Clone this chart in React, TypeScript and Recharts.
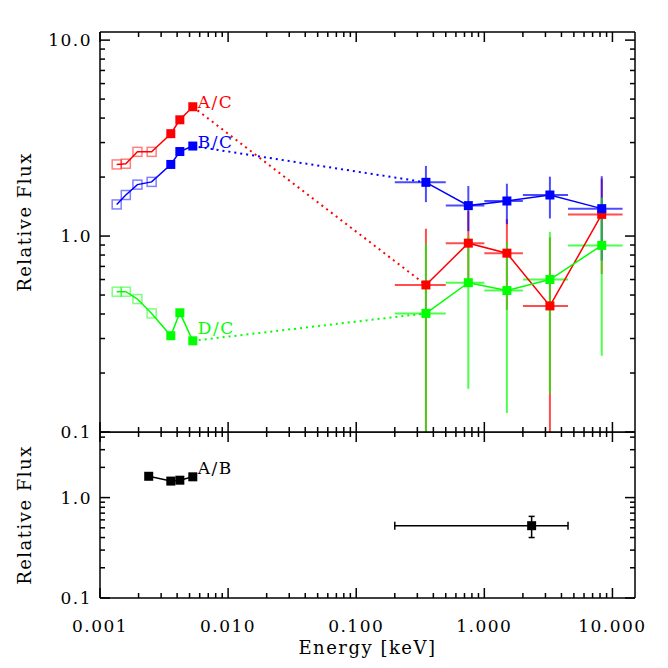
import { ScatterChart, Scatter, XAxis, YAxis, ErrorBar } from 'recharts';

// UV / optical points (open squares = first four filters)
const uvEnergy = [0.00135, 0.00159, 0.00196, 0.00253, 0.00357, 0.0042, 0.0053];
const uvOpen = [true, true, true, true, false, false, false];
const uvAC = [2.32, 2.34, 2.69, 2.69, 3.33, 3.92, 4.57];
const uvBC = [1.45, 1.62, 1.83, 1.89, 2.32, 2.7, 2.88];
const uvDC = [0.52, 0.52, 0.477, 0.403, 0.31, 0.406, 0.292];

// X-ray bins
const xrEnergy = [0.35, 0.75, 1.5, 3.25, 8.25];
const xrEnergyLo = [0.2, 0.5, 1, 2, 4.5];
const xrEnergyHi = [0.5, 1, 2, 4.5, 12];

// lower limits that run off the plot are read as the axis floor (0.1)
const xrAC = [0.563, 0.92, 0.818, 0.44, 1.29];
const xrACLo = [0.1, 0.55, 0.42, 0.1, 0.64];
const xrACHi = [1.09, 1.34, 1.22, 0.985, 1.96];

const xrBC = [1.88, 1.43, 1.51, 1.62, 1.38];
const xrBCLo = [1.49, 1.06, 1.15, 1.23, 0.75];
const xrBCHi = [2.28, 1.8, 1.85, 2.01, 2.02];

const xrDC = [0.403, 0.578, 0.527, 0.6, 0.896];
const xrDCLo = [0.1, 0.166, 0.125, 0.157, 0.245];
const xrDCHi = [0.92, 1.0, 0.93, 1.05, 1.57];

// A/B panel
const abEnergy = [0.0024, 0.00357, 0.0042, 0.0053];
const abFlux = [1.63, 1.46, 1.49, 1.61];
const abXrEnergy = [2.34];
const abXrEnergyLo = [0.2];
const abXrEnergyHi = [4.5];
const abXrFlux = [0.525];
const abXrFluxLo = [0.4];
const abXrFluxHi = [0.65];

// annotation anchors (data space)
const labelText = ['A/C', 'B/C', 'D/C'];
const labelEnergy = [0.0058, 0.0058, 0.0058];
const labelFlux = [4.5, 2.83, 0.318];
const abLabelEnergy = [0.0058];
const abLabelFlux = [1.72];

// ticks
const xMajor = [0.001, 0.01, 0.1, 1, 10];
const xTicks = [
  0.001, 0.002, 0.003, 0.004, 0.005, 0.006, 0.007, 0.008, 0.009,
  0.01, 0.02, 0.03, 0.04, 0.05, 0.06, 0.07, 0.08, 0.09,
  0.1, 0.2, 0.3, 0.4, 0.5, 0.6, 0.7, 0.8, 0.9,
  1, 2, 3, 4, 5, 6, 7, 8, 9, 10,
];
const yMajorTop = [0.1, 1, 10];
const yTicksTop = [0.1, 0.2, 0.3, 0.4, 0.5, 0.6, 0.7, 0.8, 0.9, 1, 2, 3, 4, 5, 6, 7, 8, 9, 10];
const yMajorBottom = [0.1, 1];
const yTicksBottom = [0.1, 0.2, 0.3, 0.4, 0.5, 0.6, 0.7, 0.8, 0.9, 1, 2, 3, 4];

const X_DOMAIN = [0.001, 15];
const Y_DOMAIN_TOP = [0.1, 11];
const Y_DOMAIN_BOTTOM = [0.1, 4.5];

const RED = '#ff0000';
const BLUE = '#0000ff';
const GREEN = '#00ff00';
const FONT = '"DejaVu Serif", serif';
const FS = 17;
const LS = 1.5;
const AXIS = { stroke: '#000', strokeWidth: 1.5 };

const uvPoints = (ys: number[]) =>
  uvEnergy.map((x, i) => ({ x, y: ys[i], open: uvOpen[i] }));

const xrPoints = (ys: number[], lo: number[], hi: number[]) =>
  xrEnergy.map((x, i) => ({
    x,
    y: ys[i],
    ex: [x - xrEnergyLo[i], xrEnergyHi[i] - x],
    ey: [ys[i] - lo[i], hi[i] - ys[i]],
  }));

const bridge = (uv: number[], xr: number[]) => [
  { x: uvEnergy[uvEnergy.length - 1], y: uv[uv.length - 1] },
  { x: xrEnergy[0], y: xr[0] },
];

const square = (color: string) => (p: any) =>
  p.payload.open ? (
    <rect x={p.cx - 4.5} y={p.cy - 4.5} width={9} height={9} fill="none"
      stroke={color} strokeOpacity={0.5} strokeWidth={1.5} />
  ) : (
    <rect x={p.cx - 4.5} y={p.cy - 4.5} width={9} height={9} fill={color} />
  );

const noDot = () => <g />;

const textAt = (color: string) => (p: any) => (
  <text x={p.cx} y={p.cy} fill={color} fontSize={FS} fontFamily={FONT} letterSpacing={LS}>
    {p.payload.text}
  </text>
);

const fmtY = (v: number) => v.toFixed(1);
const fmtX = (v: number) => v.toFixed(3);

type Side = 'left' | 'right' | 'top' | 'bottom';

// IDL-style inward tick marks, with optional labels on major ticks
const tickMark = (side: Side, majors: number[], fmt?: (v: number) => string) => (p: any) => {
  const v = p.payload.value;
  const major = majors.some((m) => Math.abs(m - v) / m < 1e-6);
  const len = major ? 10 : 5;
  let x2 = p.x;
  let y2 = p.y;
  if (side === 'left') x2 += len;
  else if (side === 'right') x2 -= len;
  else if (side === 'top') y2 += len;
  else y2 -= len;
  return (
    <g>
      <line x1={p.x} y1={p.y} x2={x2} y2={y2} stroke="#000" strokeWidth={1.5} />
      {major && fmt && side === 'left' && (
        <text x={p.x - 8} y={p.y} dy="0.36em" textAnchor="end" fill="#000" fontSize={FS} fontFamily={FONT} letterSpacing={LS}>
          {fmt(v)}
        </text>
      )}
      {major && fmt && side === 'bottom' && (
        <text x={p.x} y={p.y + 22} dy="0.72em" textAnchor="middle" fill="#000" fontSize={FS} fontFamily={FONT} letterSpacing={LS}>
          {fmt(v)}
        </text>
      )}
    </g>
  );
};

const axisBase = {
  type: 'number' as const,
  scale: 'log' as const,
  allowDataOverflow: true,
  interval: 0 as const,
  tickSize: 0,
  tickMargin: 0,
  tickLine: false,
  axisLine: AXIS,
};

function yAxes(yDomain: number[], yTicks: number[], yMajor: number[], dy: number) {
  return [
    <YAxis
      key="y"
      yAxisId="y"
      dataKey="y"
      orientation="left"
      width={100}
      domain={yDomain}
      ticks={yTicks}
      tick={tickMark('left', yMajor, fmtY)}
      label={{ value: 'Relative Flux', angle: -90, position: 'center', dx: -25, dy, fill: '#000', fontSize: 18, fontFamily: FONT, letterSpacing: 1.5 }}
      {...axisBase}
    />,
    <YAxis key="yr" yAxisId="yr" dataKey="y" orientation="right" mirror domain={yDomain} ticks={yTicks}
      tick={tickMark('right', yMajor)} {...axisBase} />,
  ];
}

const topAxis = (
  <XAxis xAxisId="xt" dataKey="x" orientation="top" mirror domain={X_DOMAIN} ticks={xTicks}
    tick={tickMark('top', xMajor)} {...axisBase} />
);

export default function App() {
  const series = [
    { color: RED, uv: uvAC, xr: xrAC, lo: xrACLo, hi: xrACHi },
    { color: BLUE, uv: uvBC, xr: xrBC, lo: xrBCLo, hi: xrBCHi },
    { color: GREEN, uv: uvDC, xr: xrDC, lo: xrDCLo, hi: xrDCHi },
  ];
  const labelColors = [RED, BLUE, GREEN];

  const abUv = abEnergy.map((x, i) => ({ x, y: abFlux[i] }));
  const abXr = abXrEnergy.map((x, i) => ({
    x,
    y: abXrFlux[i],
    ex: [x - abXrEnergyLo[i], abXrEnergyHi[i] - x],
    ey: [abXrFlux[i] - abXrFluxLo[i], abXrFluxHi[i] - abXrFlux[i]],
  }));

  return (
    <div style={{ position: 'absolute', left: 0, top: 0, width: 668, height: 668, background: '#fff', fontFamily: FONT }}>
      <div style={{ position: 'absolute', left: 0, top: 0 }}>
        <ScatterChart width={668} height={445} margin={{ top: 32, right: 33, bottom: 13, left: 0 }}>
          <XAxis xAxisId="x" dataKey="x" orientation="bottom" mirror domain={X_DOMAIN} ticks={xTicks}
            tick={tickMark('bottom', xMajor)} {...axisBase} />
          {topAxis}
          {yAxes(Y_DOMAIN_TOP, yTicksTop, yMajorTop, -10)}
          {/* hidden carrier for the top/right frame axes */}
          <Scatter xAxisId="xt" yAxisId="yr" data={uvPoints(uvAC)} shape={noDot} isAnimationActive={false} />
          {series.map((s, k) => (
            <Scatter key={`b${k}`} xAxisId="x" yAxisId="y" data={bridge(s.uv, s.xr)} isAnimationActive={false}
              shape={noDot} line={{ stroke: s.color, strokeWidth: 2, strokeDasharray: '2 4' }} />
          ))}
          {series.map((s, k) => (
            <Scatter key={`u${k}`} xAxisId="x" yAxisId="y" data={uvPoints(s.uv)} isAnimationActive={false}
              shape={square(s.color)} line={{ stroke: s.color, strokeWidth: 1.5 }} />
          ))}
          {series.map((s, k) => (
            <Scatter key={`x${k}`} xAxisId="x" yAxisId="y" data={xrPoints(s.xr, s.lo, s.hi)} isAnimationActive={false}
              shape={square(s.color)} line={{ stroke: s.color, strokeWidth: 1.5 }}>
              <ErrorBar dataKey="ex" direction="x" width={0} stroke={s.color} strokeWidth={2} strokeOpacity={0.7} />
              <ErrorBar dataKey="ey" direction="y" width={0} stroke={s.color} strokeWidth={2} strokeOpacity={0.7} />
            </Scatter>
          ))}
          {labelText.map((t, k) => (
            <Scatter key={`l${k}`} xAxisId="x" yAxisId="y" isAnimationActive={false}
              data={[{ x: labelEnergy[k], y: labelFlux[k], text: t }]} shape={textAt(labelColors[k])} />
          ))}
        </ScatterChart>
      </div>
      <div style={{ position: 'absolute', left: 0, top: 432 }}>
        <ScatterChart width={668} height={236} margin={{ top: 0, right: 33, bottom: 0, left: 0 }}>
          <XAxis
            xAxisId="x"
            dataKey="x"
            orientation="bottom"
            height={70}
            domain={X_DOMAIN}
            ticks={xTicks}
            tick={tickMark('bottom', xMajor, fmtX)}
            label={{ value: 'Energy [keV]', position: 'insideBottom', offset: 14, fill: '#000', fontSize: 18, fontFamily: FONT, letterSpacing: 1.5 }}
            {...axisBase}
          />
          {topAxis}
          {yAxes(Y_DOMAIN_BOTTOM, yTicksBottom, yMajorBottom, 0)}
          <Scatter xAxisId="xt" yAxisId="yr" data={abUv} shape={noDot} isAnimationActive={false} />
          <Scatter xAxisId="x" yAxisId="y" data={abUv} isAnimationActive={false}
            shape={square('#000')} line={{ stroke: '#000', strokeWidth: 1.5 }} />
          <Scatter xAxisId="x" yAxisId="y" data={abXr} isAnimationActive={false} shape={square('#000')}>
            <ErrorBar dataKey="ex" direction="x" width={4} stroke="#000" strokeWidth={1.5} />
            <ErrorBar dataKey="ey" direction="y" width={3} stroke="#000" strokeWidth={1.5} />
          </Scatter>
          <Scatter xAxisId="x" yAxisId="y" isAnimationActive={false}
            data={[{ x: abLabelEnergy[0], y: abLabelFlux[0], text: 'A/B' }]} shape={textAt('#000')} />
        </ScatterChart>
      </div>
    </div>
  );
}
